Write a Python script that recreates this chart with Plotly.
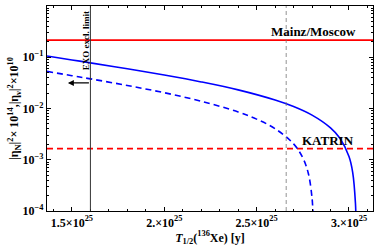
import plotly.graph_objects as go

# half-life in units of 1e25 years
t_solid = [1.365, 1.5, 1.6, 1.8, 2.0, 2.2, 2.4, 2.6, 2.7, 2.8, 2.9, 2.95, 3.0, 3.02, 3.035, 3.038]
y_solid = [0.106, 0.0887, 0.0778, 0.0595, 0.0449, 0.0330, 0.0231, 0.01463, 0.0109, 0.00741,
           0.00418, 0.00265, 0.00116, 5.7e-4, 1.42e-4, 5.7e-5]
t_dash = [1.365, 1.5, 1.6, 1.8, 2.0, 2.2, 2.4, 2.5, 2.6, 2.7, 2.75, 2.78, 2.8, 2.805]
y_dash = [0.053, 0.0437, 0.0379, 0.0281, 0.0203, 0.01388, 0.00855, 0.0062, 0.00404, 0.00204,
          0.00109, 5.4e-4, 1.79e-4, 8.9e-5]
mainz = 0.216
katrin = 1.65e-3
exo_limit = 1.6
gray_line = 2.66
x_range = [1.365, 3.13]
x_ticks = [1.5, 2.0, 2.5, 3.0]
x_ticktext = ["1.5×10<sup>25</sup>", "2.×10<sup>25</sup>", "2.5×10<sup>25</sup>", "3.×10<sup>25</sup>"]
y_ticks = [1e-4, 1e-3, 1e-2, 1e-1, 1]
y_ticktext = ["10<sup>−4</sup>", "10<sup>−3</sup>", "10<sup>−2</sup>", "10<sup>−1</sup>", "1"]
y_minor = [m * 10 ** e for e in range(-4, 0) for m in range(2, 10)]

FONT = "Liberation Serif"

fig = go.Figure()
fig.add_trace(go.Scatter(x=x_range, y=[mainz, mainz], mode="lines",
                         line=dict(color="#ff0000", width=1.6), showlegend=False))
fig.add_trace(go.Scatter(x=x_range, y=[katrin, katrin], mode="lines",
                         line=dict(color="#ff0000", width=1.6, dash="6px,4px"), showlegend=False))
fig.add_trace(go.Scatter(x=t_solid, y=y_solid, mode="lines", line_shape="spline",
                         line=dict(color="#0000ff", width=1.6), showlegend=False))
fig.add_trace(go.Scatter(x=t_dash, y=y_dash, mode="lines", line_shape="spline",
                         line=dict(color="#0000ff", width=1.6, dash="6px,4px"), showlegend=False))

fig.add_shape(type="line", x0=exo_limit, x1=exo_limit, y0=0, y1=1, yref="paper",
              line=dict(color="#333333", width=1))
fig.add_shape(type="line", x0=gray_line, x1=gray_line, y0=0, y1=1, yref="paper",
              line=dict(color="#777777", width=0.8, dash="4px,3px"))

fig.add_annotation(x=1.478, y=-1.50, ax=exo_limit, ay=-1.50, xref="x", yref="y",
                   axref="x", ayref="y", text="", showarrow=True,
                   arrowhead=2, arrowsize=1, arrowwidth=1.2, arrowcolor="black", standoff=0)
fig.add_annotation(x=1.578, y=-0.68, xref="x", yref="y", text="<b>EXO excl. limit</b>",
                   textangle=-90, showarrow=False, font=dict(family=FONT, size=9, color="black"))
fig.add_annotation(x=2.81, y=-0.49, xref="x", yref="y", text="<b>Mainz/Moscow</b>",
                   showarrow=False, yanchor="middle", font=dict(family=FONT, size=13, color="black"))
fig.add_annotation(x=2.887, y=-2.62, xref="x", yref="y", text="<b>KATRIN</b>",
                   showarrow=False, yanchor="middle", font=dict(family=FONT, size=13, color="black"))

axis_common = dict(showline=True, linecolor="black", linewidth=1.2, mirror="ticks",
                   ticks="inside", tickcolor="black", showgrid=False, zeroline=False,
                   automargin=False,
                   tickfont=dict(family=FONT, size=12, color="black"))
fig.update_xaxes(range=x_range, tickvals=x_ticks, ticktext=[f"<b>{t}</b>" for t in x_ticktext],
                 ticklen=4, minor=dict(dtick=0.1, ticklen=2, ticks="inside", tickcolor="black"),
                 title=dict(text="<b><i>T</i><sub>1/2</sub>(<sup>136</sup>Xe) [y]</b>",
                            font=dict(family=FONT, size=12, color="black"), standoff=4),
                 **axis_common)
fig.update_yaxes(type="log", range=[-4, 0], tickvals=y_ticks,
                 ticktext=[f"<b>{t}</b>" for t in y_ticktext], ticklen=4,
                 minor=dict(ticklen=2, ticks="inside", tickcolor="black", tickvals=y_minor),
                 title=dict(text="<b>|η<sub>N</sub>|<sup>2</sup>× 10<sup>14</sup>,|η<sub>ν</sub>|<sup>2</sup>×10<sup>10</sup></b>",
                            font=dict(family=FONT, size=12, color="black"), standoff=0),
                 **axis_common)

fig.update_layout(width=376, height=251, margin=dict(l=47, r=3, t=6, b=40),
                  plot_bgcolor="white", paper_bgcolor="white")
fig.write_html("out.html", config={"displayModeBar": False},
               post_script="document.body.style.margin='0';")
